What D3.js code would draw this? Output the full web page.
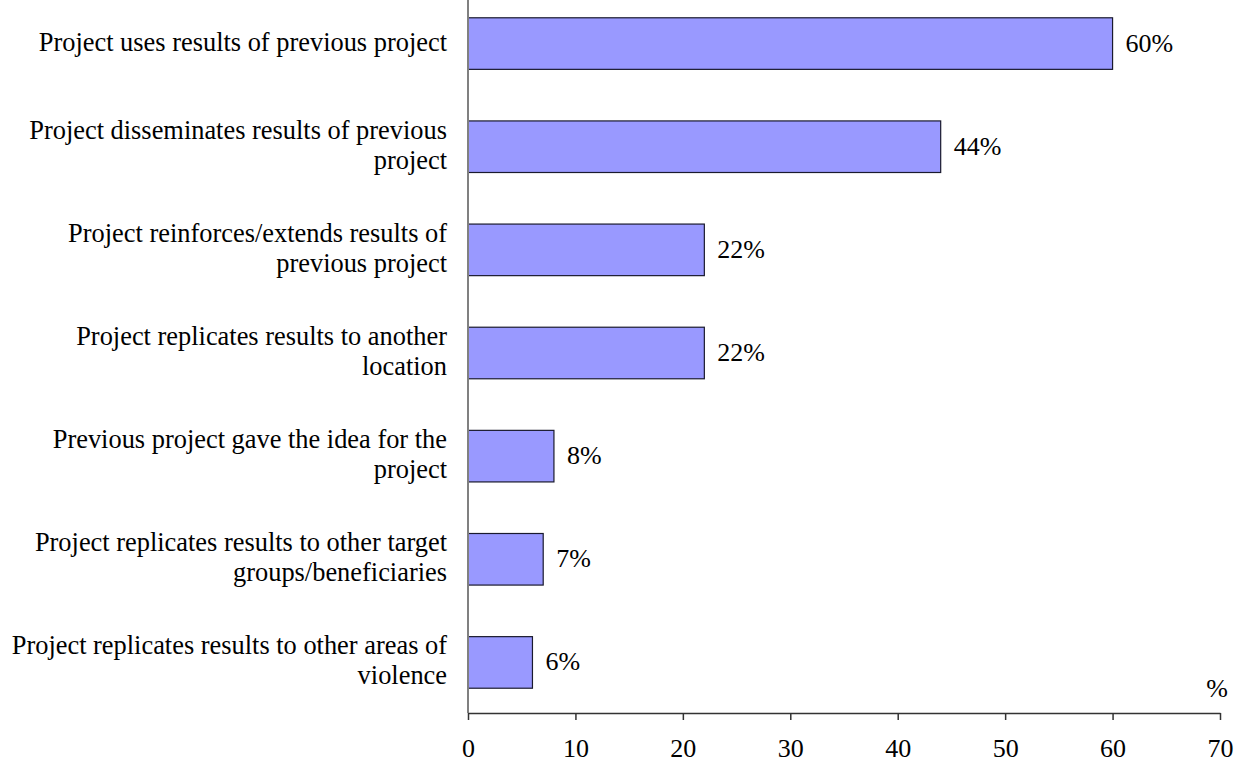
<!DOCTYPE html>
<html>
<head>
<meta charset="utf-8">
<script src="https://cdn.jsdelivr.net/npm/d3@7"></script>
<style>
  html, body { margin: 0; padding: 0; background: #fff; }
  svg { display: block; }
</style>
</head>
<body>
<svg id="chart" width="1248" height="764"></svg>
<script>
// Category labels, split into display lines
const categories = [
  ["Project uses results of previous project"],
  ["Project disseminates results of previous", "project"],
  ["Project reinforces/extends results of", "previous project"],
  ["Project replicates results to another", "location"],
  ["Previous project gave the idea for the", "project"],
  ["Project replicates results to other target", "groups/beneficiaries"],
  ["Project replicates results to other areas of", "violence"]
];
const values = [60, 44, 22, 22, 8, 7, 6];
const xTicks = [0, 10, 20, 30, 40, 50, 60, 70];
const axisUnit = "%";

const FONT = "'Liberation Serif'";
const svg = d3.select("#chart");
const left = 468, right = 1220, axisY = 713;
const fontSize = 26;

const x = d3.scaleLinear().domain([0, 70]).range([left, right]);
const y = d3.scaleBand()
  .domain(d3.range(categories.length))
  .range([-8, 714])
  .paddingInner(0.5)
  .paddingOuter(0.25);

// Bars
svg.append("g").selectAll("rect")
  .data(values)
  .join("rect")
  .attr("x", x(0))
  .attr("y", (d, i) => y(i))
  .attr("width", d => x(d) - x(0))
  .attr("height", y.bandwidth())
  .attr("fill", "#9999FF")
  .attr("stroke", "#1a1a2e")
  .attr("stroke-width", 1.2);

// Value labels
svg.append("g").selectAll("text")
  .data(values)
  .join("text")
  .style("font-family", FONT)
  .attr("x", d => x(d) + 13)
  .attr("y", (d, i) => y(i) + y.bandwidth() / 2 + 8)
  .attr("font-size", fontSize)
  .text(d => d + "%");

// Category labels
const lab = svg.append("g").selectAll("text")
  .data(categories)
  .join("text")
  .style("font-family", FONT)
  .attr("text-anchor", "end")
  .attr("font-size", 26.4)
  .attr("x", 447)
  .attr("y", (d, i) => y(i) + y.bandwidth() / 2);
lab.each(function(lines) {
  const t = d3.select(this);
  const n = lines.length;
  lines.forEach((s, k) => {
    t.append("tspan")
      .attr("x", 447)
      .attr("dy", k === 0 ? ((-(n - 1) * 30) / 2 + 7) : 30)
      .text(s);
  });
});

// Vertical category axis line
svg.append("line")
  .attr("x1", left).attr("x2", left)
  .attr("y1", 0).attr("y2", axisY)
  .attr("stroke", "#808080").attr("stroke-width", 2);

// Horizontal value axis
const xAxis = d3.axisBottom(x).tickValues(xTicks).tickSize(7).tickSizeOuter(0).tickPadding(19);
const gx = svg.append("g").attr("transform", `translate(0,${axisY})`).call(xAxis);
gx.attr("font-family", null);
gx.select(".domain").attr("stroke", "#333").attr("stroke-width", 1.5);
gx.selectAll(".tick line").attr("stroke", "#333").attr("stroke-width", 1.5);
gx.selectAll(".tick text")
  .style("font-family", FONT)
  .attr("font-size", fontSize)
  .attr("fill", "#000");

// Unit label
svg.append("text")
  .style("font-family", FONT)
  .attr("x", 1217).attr("y", 697)
  .attr("text-anchor", "middle")
  .attr("font-size", fontSize)
  .text(axisUnit);
</script>
</body>
</html>
